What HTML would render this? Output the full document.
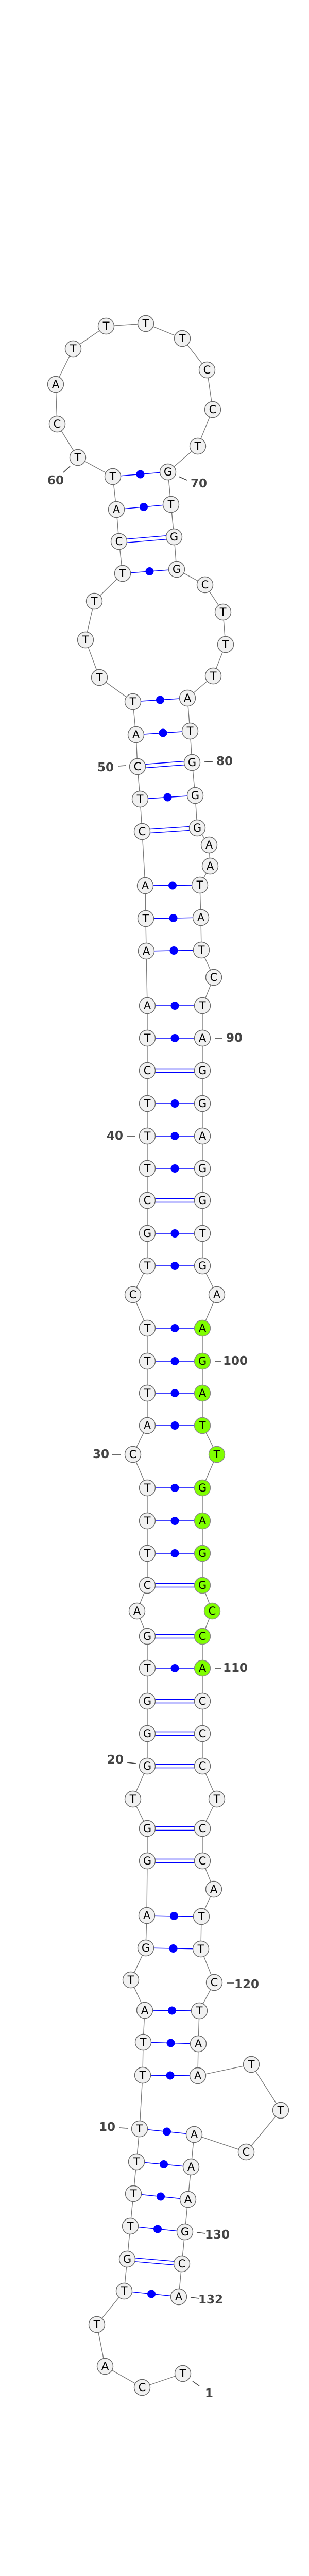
<!DOCTYPE html>
<html><head><meta charset="utf-8"><style>
html,body{margin:0;padding:0;background:#fff;width:600px;height:5236px;overflow:hidden;}
svg{display:block;}
.bb line{stroke:#7a7a7a;stroke-width:1.4;}
.pr line{stroke:#0000ff;stroke-width:1.4;}
.pr circle{fill:#0000ff;}
.nd circle{fill:#f1f1f1;stroke:#666;stroke-width:1.4;}
.nd circle.g{fill:#80ff00;stroke:#888;}
.nd text{font-family:"DejaVu Sans","Liberation Sans",sans-serif;font-size:21px;fill:#000;text-anchor:middle;dominant-baseline:central;}
.lb text{font-family:"DejaVu Sans","Liberation Sans",sans-serif;font-size:23px;font-weight:bold;fill:#444;text-anchor:middle;dominant-baseline:central;}
.lb line{stroke:#444;stroke-width:1.6;}
</style></head><body>
<svg width="600" height="5236" viewBox="0 0 600 5236" xmlns="http://www.w3.org/2000/svg">
<g class="bb">
<polyline fill="none" stroke="#7a7a7a" stroke-width="1.4" points="355,4607 276,4634 204,4593 188,4512 241,4447 247,4385 253,4321 259,4258 265,4196 271,4132 277,4028 278,3964 281,3902 254,3843 283,3781 285,3718 286,3612 286,3549 258,3492 286,3428 286,3365 286,3302 286,3238 286,3176 266,3127 286,3077 286,3015 286,2952 286,2888 258,2823 286,2767 286,2704 286,2642 286,2578 258,2513 286,2457 286,2394 286,2330 286,2268 286,2205 286,2142 286,2078 286,2015 286,1952 284,1846 283,1783 282,1719 276,1614 272,1551 267,1488 264,1426 258,1362 193,1315 166,1242 183,1167 238,1113 231,1051 226,989 219,925 151,888 111,823 108,746 142,677 206,633 283,628 354,657 402,718 413,795 384,866 326,916 332,979 338,1042 343,1105 398,1135 433,1188 438,1251 414,1312 364,1355 369,1419 373,1480 379,1544 383,1607 406,1640 408,1681 388,1718 390,1781 391,1844 415,1897 393,1952 393,2015 393,2078 393,2142 393,2205 393,2268 393,2330 393,2394 393,2457 421,2513 393,2578 393,2642 393,2704 393,2767 421,2823 393,2888 393,2952 393,3015 393,3077 412,3127 393,3176 393,3238 393,3302 393,3365 393,3428 421,3492 393,3549 393,3612 415,3667 391,3720 390,3783 416,3848 387,3903 385,3967 384,4029 488,4007 545,4096 478,4177 377,4143 371,4206 365,4269 359,4332 353,4394 347,4458"/>
</g>
<g class="pr">
<line x1="219" y1="925" x2="326" y2="916"/><circle cx="272.5" cy="920.5" r="8"/>
<line x1="226" y1="989" x2="332" y2="979"/><circle cx="279" cy="984" r="8"/>
<line x1="238" y1="1113" x2="343" y2="1105"/><circle cx="290.5" cy="1109" r="8"/>
<line x1="258" y1="1362" x2="364" y2="1355"/><circle cx="311" cy="1358.5" r="8"/>
<line x1="264" y1="1426" x2="369" y2="1419"/><circle cx="316.5" cy="1422.5" r="8"/>
<line x1="272" y1="1551" x2="379" y2="1544"/><circle cx="325.5" cy="1547.5" r="8"/>
<line x1="282" y1="1719" x2="388" y2="1718"/><circle cx="335" cy="1718.5" r="8"/>
<line x1="283" y1="1783" x2="390" y2="1781"/><circle cx="336.5" cy="1782" r="8"/>
<line x1="284" y1="1846" x2="391" y2="1844"/><circle cx="337.5" cy="1845" r="8"/>
<line x1="286" y1="1952" x2="393" y2="1952"/><circle cx="339.5" cy="1952" r="8"/>
<line x1="286" y1="2015" x2="393" y2="2015"/><circle cx="339.5" cy="2015" r="8"/>
<line x1="286" y1="2142" x2="393" y2="2142"/><circle cx="339.5" cy="2142" r="8"/>
<line x1="286" y1="2205" x2="393" y2="2205"/><circle cx="339.5" cy="2205" r="8"/>
<line x1="286" y1="2268" x2="393" y2="2268"/><circle cx="339.5" cy="2268" r="8"/>
<line x1="286" y1="2394" x2="393" y2="2394"/><circle cx="339.5" cy="2394" r="8"/>
<line x1="286" y1="2457" x2="393" y2="2457"/><circle cx="339.5" cy="2457" r="8"/>
<line x1="286" y1="2578" x2="393" y2="2578"/><circle cx="339.5" cy="2578" r="8"/>
<line x1="286" y1="2642" x2="393" y2="2642"/><circle cx="339.5" cy="2642" r="8"/>
<line x1="286" y1="2704" x2="393" y2="2704"/><circle cx="339.5" cy="2704" r="8"/>
<line x1="286" y1="2767" x2="393" y2="2767"/><circle cx="339.5" cy="2767" r="8"/>
<line x1="286" y1="2888" x2="393" y2="2888"/><circle cx="339.5" cy="2888" r="8"/>
<line x1="286" y1="2952" x2="393" y2="2952"/><circle cx="339.5" cy="2952" r="8"/>
<line x1="286" y1="3015" x2="393" y2="3015"/><circle cx="339.5" cy="3015" r="8"/>
<line x1="286" y1="3238" x2="393" y2="3238"/><circle cx="339.5" cy="3238" r="8"/>
<line x1="285" y1="3718" x2="391" y2="3720"/><circle cx="338" cy="3719" r="8"/>
<line x1="283" y1="3781" x2="390" y2="3783"/><circle cx="336.5" cy="3782" r="8"/>
<line x1="281" y1="3902" x2="387" y2="3903"/><circle cx="334" cy="3902.5" r="8"/>
<line x1="278" y1="3964" x2="385" y2="3967"/><circle cx="331.5" cy="3965.5" r="8"/>
<line x1="277" y1="4028" x2="384" y2="4029"/><circle cx="330.5" cy="4028.5" r="8"/>
<line x1="271" y1="4132" x2="377" y2="4143"/><circle cx="324" cy="4137.5" r="8"/>
<line x1="265" y1="4196" x2="371" y2="4206"/><circle cx="318" cy="4201" r="8"/>
<line x1="259" y1="4258" x2="365" y2="4269"/><circle cx="312" cy="4263.5" r="8"/>
<line x1="253" y1="4321" x2="359" y2="4332"/><circle cx="306" cy="4326.5" r="8"/>
<line x1="241" y1="4447" x2="347" y2="4458"/><circle cx="294" cy="4452.5" r="8"/>
<line x1="231" y1="1047.5" x2="338" y2="1038.5"/><line x1="231" y1="1054.5" x2="338" y2="1045.5"/>
<line x1="267" y1="1484.5" x2="373" y2="1476.5"/><line x1="267" y1="1491.5" x2="373" y2="1483.5"/>
<line x1="276" y1="1610.5" x2="383" y2="1603.5"/><line x1="276" y1="1617.5" x2="383" y2="1610.5"/>
<line x1="286" y1="2074.5" x2="393" y2="2074.5"/><line x1="286" y1="2081.5" x2="393" y2="2081.5"/>
<line x1="286" y1="2326.5" x2="393" y2="2326.5"/><line x1="286" y1="2333.5" x2="393" y2="2333.5"/>
<line x1="286" y1="3073.5" x2="393" y2="3073.5"/><line x1="286" y1="3080.5" x2="393" y2="3080.5"/>
<line x1="286" y1="3172.5" x2="393" y2="3172.5"/><line x1="286" y1="3179.5" x2="393" y2="3179.5"/>
<line x1="286" y1="3298.5" x2="393" y2="3298.5"/><line x1="286" y1="3305.5" x2="393" y2="3305.5"/>
<line x1="286" y1="3361.5" x2="393" y2="3361.5"/><line x1="286" y1="3368.5" x2="393" y2="3368.5"/>
<line x1="286" y1="3424.5" x2="393" y2="3424.5"/><line x1="286" y1="3431.5" x2="393" y2="3431.5"/>
<line x1="286" y1="3545.5" x2="393" y2="3545.5"/><line x1="286" y1="3552.5" x2="393" y2="3552.5"/>
<line x1="286" y1="3608.5" x2="393" y2="3608.5"/><line x1="286" y1="3615.5" x2="393" y2="3615.5"/>
<line x1="247" y1="4381.5" x2="353" y2="4390.5"/><line x1="247" y1="4388.5" x2="353" y2="4397.5"/>
</g>
<g class="nd">
<circle cx="355" cy="4607" r="15.5"/><text x="355" y="4607">T</text>
<circle cx="276" cy="4634" r="15.5"/><text x="276" y="4634">C</text>
<circle cx="204" cy="4593" r="15.5"/><text x="204" y="4593">A</text>
<circle cx="188" cy="4512" r="15.5"/><text x="188" y="4512">T</text>
<circle cx="241" cy="4447" r="15.5"/><text x="241" y="4447">T</text>
<circle cx="247" cy="4385" r="15.5"/><text x="247" y="4385">G</text>
<circle cx="253" cy="4321" r="15.5"/><text x="253" y="4321">T</text>
<circle cx="259" cy="4258" r="15.5"/><text x="259" y="4258">T</text>
<circle cx="265" cy="4196" r="15.5"/><text x="265" y="4196">T</text>
<circle cx="271" cy="4132" r="15.5"/><text x="271" y="4132">T</text>
<circle cx="277" cy="4028" r="15.5"/><text x="277" y="4028">T</text>
<circle cx="278" cy="3964" r="15.5"/><text x="278" y="3964">T</text>
<circle cx="281" cy="3902" r="15.5"/><text x="281" y="3902">A</text>
<circle cx="254" cy="3843" r="15.5"/><text x="254" y="3843">T</text>
<circle cx="283" cy="3781" r="15.5"/><text x="283" y="3781">G</text>
<circle cx="285" cy="3718" r="15.5"/><text x="285" y="3718">A</text>
<circle cx="286" cy="3612" r="15.5"/><text x="286" y="3612">G</text>
<circle cx="286" cy="3549" r="15.5"/><text x="286" y="3549">G</text>
<circle cx="258" cy="3492" r="15.5"/><text x="258" y="3492">T</text>
<circle cx="286" cy="3428" r="15.5"/><text x="286" y="3428">G</text>
<circle cx="286" cy="3365" r="15.5"/><text x="286" y="3365">G</text>
<circle cx="286" cy="3302" r="15.5"/><text x="286" y="3302">G</text>
<circle cx="286" cy="3238" r="15.5"/><text x="286" y="3238">T</text>
<circle cx="286" cy="3176" r="15.5"/><text x="286" y="3176">G</text>
<circle cx="266" cy="3127" r="15.5"/><text x="266" y="3127">A</text>
<circle cx="286" cy="3077" r="15.5"/><text x="286" y="3077">C</text>
<circle cx="286" cy="3015" r="15.5"/><text x="286" y="3015">T</text>
<circle cx="286" cy="2952" r="15.5"/><text x="286" y="2952">T</text>
<circle cx="286" cy="2888" r="15.5"/><text x="286" y="2888">T</text>
<circle cx="258" cy="2823" r="15.5"/><text x="258" y="2823">C</text>
<circle cx="286" cy="2767" r="15.5"/><text x="286" y="2767">A</text>
<circle cx="286" cy="2704" r="15.5"/><text x="286" y="2704">T</text>
<circle cx="286" cy="2642" r="15.5"/><text x="286" y="2642">T</text>
<circle cx="286" cy="2578" r="15.5"/><text x="286" y="2578">T</text>
<circle cx="258" cy="2513" r="15.5"/><text x="258" y="2513">C</text>
<circle cx="286" cy="2457" r="15.5"/><text x="286" y="2457">T</text>
<circle cx="286" cy="2394" r="15.5"/><text x="286" y="2394">G</text>
<circle cx="286" cy="2330" r="15.5"/><text x="286" y="2330">C</text>
<circle cx="286" cy="2268" r="15.5"/><text x="286" y="2268">T</text>
<circle cx="286" cy="2205" r="15.5"/><text x="286" y="2205">T</text>
<circle cx="286" cy="2142" r="15.5"/><text x="286" y="2142">T</text>
<circle cx="286" cy="2078" r="15.5"/><text x="286" y="2078">C</text>
<circle cx="286" cy="2015" r="15.5"/><text x="286" y="2015">T</text>
<circle cx="286" cy="1952" r="15.5"/><text x="286" y="1952">A</text>
<circle cx="284" cy="1846" r="15.5"/><text x="284" y="1846">A</text>
<circle cx="283" cy="1783" r="15.5"/><text x="283" y="1783">T</text>
<circle cx="282" cy="1719" r="15.5"/><text x="282" y="1719">A</text>
<circle cx="276" cy="1614" r="15.5"/><text x="276" y="1614">C</text>
<circle cx="272" cy="1551" r="15.5"/><text x="272" y="1551">T</text>
<circle cx="267" cy="1488" r="15.5"/><text x="267" y="1488">C</text>
<circle cx="264" cy="1426" r="15.5"/><text x="264" y="1426">A</text>
<circle cx="258" cy="1362" r="15.5"/><text x="258" y="1362">T</text>
<circle cx="193" cy="1315" r="15.5"/><text x="193" y="1315">T</text>
<circle cx="166" cy="1242" r="15.5"/><text x="166" y="1242">T</text>
<circle cx="183" cy="1167" r="15.5"/><text x="183" y="1167">T</text>
<circle cx="238" cy="1113" r="15.5"/><text x="238" y="1113">T</text>
<circle cx="231" cy="1051" r="15.5"/><text x="231" y="1051">C</text>
<circle cx="226" cy="989" r="15.5"/><text x="226" y="989">A</text>
<circle cx="219" cy="925" r="15.5"/><text x="219" y="925">T</text>
<circle cx="151" cy="888" r="15.5"/><text x="151" y="888">T</text>
<circle cx="111" cy="823" r="15.5"/><text x="111" y="823">C</text>
<circle cx="108" cy="746" r="15.5"/><text x="108" y="746">A</text>
<circle cx="142" cy="677" r="15.5"/><text x="142" y="677">T</text>
<circle cx="206" cy="633" r="15.5"/><text x="206" y="633">T</text>
<circle cx="283" cy="628" r="15.5"/><text x="283" y="628">T</text>
<circle cx="354" cy="657" r="15.5"/><text x="354" y="657">T</text>
<circle cx="402" cy="718" r="15.5"/><text x="402" y="718">C</text>
<circle cx="413" cy="795" r="15.5"/><text x="413" y="795">C</text>
<circle cx="384" cy="866" r="15.5"/><text x="384" y="866">T</text>
<circle cx="326" cy="916" r="15.5"/><text x="326" y="916">G</text>
<circle cx="332" cy="979" r="15.5"/><text x="332" y="979">T</text>
<circle cx="338" cy="1042" r="15.5"/><text x="338" y="1042">G</text>
<circle cx="343" cy="1105" r="15.5"/><text x="343" y="1105">G</text>
<circle cx="398" cy="1135" r="15.5"/><text x="398" y="1135">C</text>
<circle cx="433" cy="1188" r="15.5"/><text x="433" y="1188">T</text>
<circle cx="438" cy="1251" r="15.5"/><text x="438" y="1251">T</text>
<circle cx="414" cy="1312" r="15.5"/><text x="414" y="1312">T</text>
<circle cx="364" cy="1355" r="15.5"/><text x="364" y="1355">A</text>
<circle cx="369" cy="1419" r="15.5"/><text x="369" y="1419">T</text>
<circle cx="373" cy="1480" r="15.5"/><text x="373" y="1480">G</text>
<circle cx="379" cy="1544" r="15.5"/><text x="379" y="1544">G</text>
<circle cx="383" cy="1607" r="15.5"/><text x="383" y="1607">G</text>
<circle cx="406" cy="1640" r="15.5"/><text x="406" y="1640">A</text>
<circle cx="408" cy="1681" r="15.5"/><text x="408" y="1681">A</text>
<circle cx="388" cy="1718" r="15.5"/><text x="388" y="1718">T</text>
<circle cx="390" cy="1781" r="15.5"/><text x="390" y="1781">A</text>
<circle cx="391" cy="1844" r="15.5"/><text x="391" y="1844">T</text>
<circle cx="415" cy="1897" r="15.5"/><text x="415" y="1897">C</text>
<circle cx="393" cy="1952" r="15.5"/><text x="393" y="1952">T</text>
<circle cx="393" cy="2015" r="15.5"/><text x="393" y="2015">A</text>
<circle cx="393" cy="2078" r="15.5"/><text x="393" y="2078">G</text>
<circle cx="393" cy="2142" r="15.5"/><text x="393" y="2142">G</text>
<circle cx="393" cy="2205" r="15.5"/><text x="393" y="2205">A</text>
<circle cx="393" cy="2268" r="15.5"/><text x="393" y="2268">G</text>
<circle cx="393" cy="2330" r="15.5"/><text x="393" y="2330">G</text>
<circle cx="393" cy="2394" r="15.5"/><text x="393" y="2394">T</text>
<circle cx="393" cy="2457" r="15.5"/><text x="393" y="2457">G</text>
<circle cx="421" cy="2513" r="15.5"/><text x="421" y="2513">A</text>
<circle class="g" cx="393" cy="2578" r="15.5"/><text x="393" y="2578">A</text>
<circle class="g" cx="393" cy="2642" r="15.5"/><text x="393" y="2642">G</text>
<circle class="g" cx="393" cy="2704" r="15.5"/><text x="393" y="2704">A</text>
<circle class="g" cx="393" cy="2767" r="15.5"/><text x="393" y="2767">T</text>
<circle class="g" cx="421" cy="2823" r="15.5"/><text x="421" y="2823">T</text>
<circle class="g" cx="393" cy="2888" r="15.5"/><text x="393" y="2888">G</text>
<circle class="g" cx="393" cy="2952" r="15.5"/><text x="393" y="2952">A</text>
<circle class="g" cx="393" cy="3015" r="15.5"/><text x="393" y="3015">G</text>
<circle class="g" cx="393" cy="3077" r="15.5"/><text x="393" y="3077">G</text>
<circle class="g" cx="412" cy="3127" r="15.5"/><text x="412" y="3127">C</text>
<circle class="g" cx="393" cy="3176" r="15.5"/><text x="393" y="3176">C</text>
<circle class="g" cx="393" cy="3238" r="15.5"/><text x="393" y="3238">A</text>
<circle cx="393" cy="3302" r="15.5"/><text x="393" y="3302">C</text>
<circle cx="393" cy="3365" r="15.5"/><text x="393" y="3365">C</text>
<circle cx="393" cy="3428" r="15.5"/><text x="393" y="3428">C</text>
<circle cx="421" cy="3492" r="15.5"/><text x="421" y="3492">T</text>
<circle cx="393" cy="3549" r="15.5"/><text x="393" y="3549">C</text>
<circle cx="393" cy="3612" r="15.5"/><text x="393" y="3612">C</text>
<circle cx="415" cy="3667" r="15.5"/><text x="415" y="3667">A</text>
<circle cx="391" cy="3720" r="15.5"/><text x="391" y="3720">T</text>
<circle cx="390" cy="3783" r="15.5"/><text x="390" y="3783">T</text>
<circle cx="416" cy="3848" r="15.5"/><text x="416" y="3848">C</text>
<circle cx="387" cy="3903" r="15.5"/><text x="387" y="3903">T</text>
<circle cx="385" cy="3967" r="15.5"/><text x="385" y="3967">A</text>
<circle cx="384" cy="4029" r="15.5"/><text x="384" y="4029">A</text>
<circle cx="488" cy="4007" r="15.5"/><text x="488" y="4007">T</text>
<circle cx="545" cy="4096" r="15.5"/><text x="545" y="4096">T</text>
<circle cx="478" cy="4177" r="15.5"/><text x="478" y="4177">C</text>
<circle cx="377" cy="4143" r="15.5"/><text x="377" y="4143">A</text>
<circle cx="371" cy="4206" r="15.5"/><text x="371" y="4206">A</text>
<circle cx="365" cy="4269" r="15.5"/><text x="365" y="4269">A</text>
<circle cx="359" cy="4332" r="15.5"/><text x="359" y="4332">G</text>
<circle cx="353" cy="4394" r="15.5"/><text x="353" y="4394">C</text>
<circle cx="347" cy="4458" r="15.5"/><text x="347" y="4458">A</text>
</g>
<g class="lb">
<line x1="374" y1="4622" x2="387" y2="4631"/><text x="406" y="4646">1</text>
<line x1="231" y1="4130" x2="248" y2="4131"/><text x="208" y="4129">10</text>
<line x1="247" y1="3421" x2="264" y2="3423"/><text x="224" y="3416">20</text>
<line x1="218" y1="2823" x2="234" y2="2823"/><text x="196" y="2823">30</text>
<line x1="247" y1="2205" x2="262" y2="2205"/><text x="223" y="2205">40</text>
<line x1="229" y1="1487" x2="244" y2="1486"/><text x="205" y="1490">50</text>
<line x1="136" y1="905" x2="123" y2="917"/><text x="108" y="933">60</text>
<line x1="347" y1="925" x2="363" y2="932"/><text x="386" y="939">70</text>
<line x1="397" y1="1479" x2="414" y2="1478"/><text x="436" y="1478">80</text>
<line x1="417" y1="2015" x2="432" y2="2015"/><text x="455" y="2015">90</text>
<line x1="417" y1="2642" x2="430" y2="2642"/><text x="457" y="2642">100</text>
<line x1="417" y1="3238" x2="430" y2="3238"/><text x="457" y="3238">110</text>
<line x1="440" y1="3849" x2="455" y2="3849"/><text x="479" y="3852">120</text>
<line x1="382" y1="4333" x2="398" y2="4335"/><text x="422" y="4338">130</text>
<line x1="370" y1="4459" x2="386" y2="4461"/><text x="409" y="4464">132</text>
</g>
<text x="300" y="5225" font-family="'DejaVu Sans','Liberation Sans',sans-serif" font-size="11" font-weight="bold" fill="#000" text-anchor="middle" dominant-baseline="central">mmu-mir-6373_annot [-29.4]</text>
</svg>
</body></html>
